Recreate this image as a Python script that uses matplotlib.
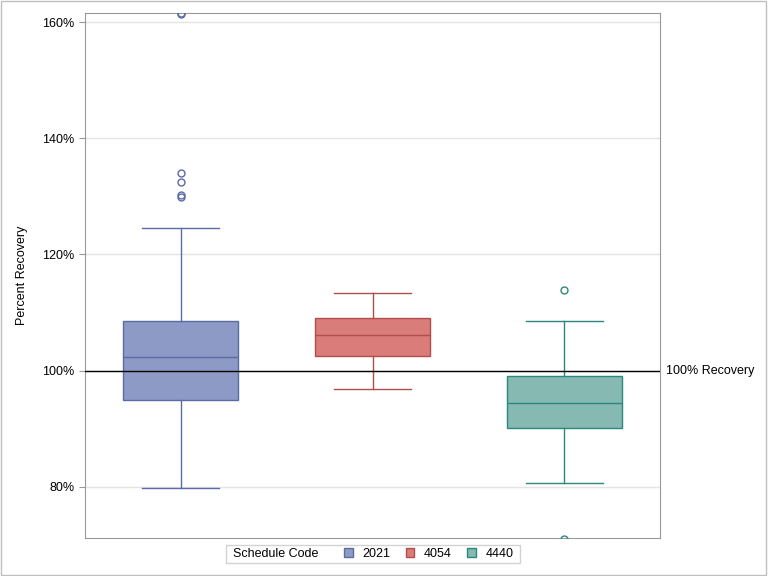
import matplotlib.pyplot as plt
from matplotlib.patches import Patch, Rectangle
from matplotlib.offsetbox import HPacker, DrawingArea
import matplotlib.transforms as mtransforms
from matplotlib.ticker import FuncFormatter

plt.rcParams['font.family'] = ['Liberation Sans', 'DejaVu Sans']

# values (percent recovery)
codes = ['2021', '4054', '4440']
whis_lo = [79.8, 96.9, 80.7]
q1 = [95.0, 102.6, 90.2]
medians = [102.4, 106.2, 94.5]
q3 = [108.6, 109.1, 99.1]
whis_hi = [124.5, 113.3, 108.6]
outliers = [[161.4, 161.6, 134.1, 132.4, 130.2, 129.8], [], [113.8, 71.0]]

fills = ['#8C9AC5', '#DA7C7A', '#86B9B2']
edges = ['#5C6BA6', '#B24E4A', '#2B887C']

fig = plt.figure(figsize=(7.68, 5.76), dpi=100)
ax = fig.add_axes([85 / 768, 1 - 538 / 576, 575 / 768, 525 / 576])

for i in range(len(codes)):
    stats = [dict(med=medians[i], q1=q1[i], q3=q3[i], whislo=whis_lo[i],
                  whishi=whis_hi[i], fliers=outliers[i])]
    ec = edges[i]
    ax.bxp(stats, positions=[i], widths=0.6, patch_artist=True,
           boxprops=dict(facecolor=fills[i], edgecolor=ec, linewidth=1),
           medianprops=dict(color=ec, linewidth=1),
           whiskerprops=dict(color=ec, linewidth=1),
           capprops=dict(color=ec, linewidth=1),
           capwidths=0.4,
           flierprops=dict(marker='o', markerfacecolor='none', markeredgecolor=ec,
                           markersize=5, markeredgewidth=1),
           manage_ticks=False, zorder=3)

ax.axhline(100, color='black', linewidth=1, zorder=4)
trans = mtransforms.blended_transform_factory(ax.transAxes, ax.transData)
ax.text(1.01, 100, '100% Recovery', transform=trans, va='center', ha='left', fontsize=9)

ax.set_xlim(-0.5, 2.5)
ax.set_ylim(71.2, 161.55)
ax.set_yticks([80, 100, 120, 140, 160])
ax.yaxis.set_major_formatter(FuncFormatter(lambda v, p: f'{v:.0f}%'))
ax.set_xticks([])
ax.tick_params(axis='y', labelsize=9, color='#999999', length=4)
ax.grid(axis='y', color='#E4E4E4', linewidth=1, zorder=0)
ax.set_axisbelow(True)
for s in ax.spines.values():
    s.set_color('#999999')
ax.set_ylabel('Percent Recovery', fontsize=9, labelpad=10)

handles = [Patch(facecolor=fills[i], edgecolor=edges[i]) for i in range(len(codes))]
leg = fig.legend(handles, codes, title='Schedule Code', title_fontsize=9, ncol=3,
                 loc='center', bbox_to_anchor=(373 / 768, 1 - 554 / 576), fontsize=9,
                 frameon=True, fancybox=False, edgecolor='#C8C8C8',
                 handlelength=0.7, handleheight=0.7, handletextpad=0.75,
                 columnspacing=1.25, borderpad=0.2, borderaxespad=0)
leg.get_frame().set_linewidth(1)
# put the legend title on the left of the entries, as in the reference
leg._legend_box = HPacker(pad=2, sep=0, align='center',
                          children=[DrawingArea(2.5, 1), leg._legend_title_box,
                                    DrawingArea(18.5, 1), leg._legend_handle_box,
                                    DrawingArea(2.5, 1)])
leg._legend_box.set_figure(fig)
leg._legend_box.set_offset(leg._findoffset)

fig.patches.append(Rectangle((0.001, 0.001), 0.997, 0.997, transform=fig.transFigure,
                             fill=False, edgecolor='#BFBFBF', linewidth=1))

fig.savefig('out.png', dpi=100)
